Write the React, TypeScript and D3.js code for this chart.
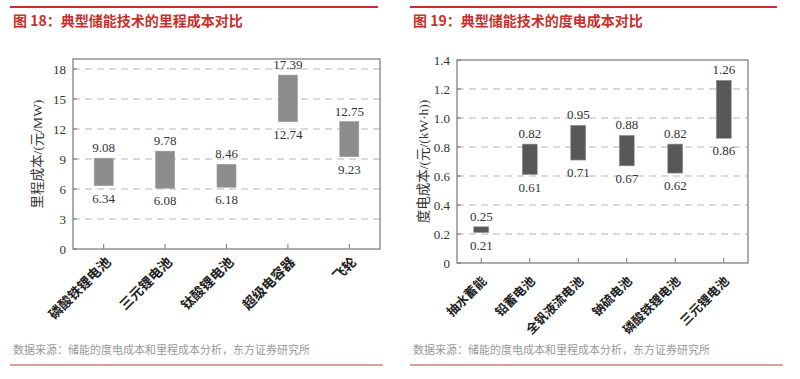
import React from "react";
import * as d3 from "d3";

const leftCategories = ["磷酸铁锂电池", "三元锂电池", "钛酸锂电池", "超级电容器", "飞轮"];
const leftLow = [6.34, 6.08, 6.18, 12.74, 9.23];
const leftHigh = [9.08, 9.78, 8.46, 17.39, 12.75];
const leftTicks = [0, 3, 6, 9, 12, 15, 18];

const rightCategories = ["抽水蓄能", "铅蓄电池", "全钒液流电池", "钠硫电池", "磷酸铁锂电池", "三元锂电池"];
const rightLow = [0.21, 0.61, 0.71, 0.67, 0.62, 0.86];
const rightHigh = [0.25, 0.82, 0.95, 0.88, 0.82, 1.26];
const rightTicks = [0, 0.2, 0.4, 0.6, 0.8, 1.0, 1.2, 1.4];

const leftTitle = "图 18：典型储能技术的里程成本对比";
const rightTitle = "图 19：典型储能技术的度电成本对比";
const leftYTitle = "里程成本/(元/MW)";
const rightYTitle = "度电成本/(元/(kW·h))";
const sourceText = "数据来源：储能的度电成本和里程成本分析，东方证券研究所";

const SERIF = "'Liberation Serif', 'DejaVu Serif', serif";
const CJK = "'Noto Sans CJK SC', sans-serif";
const MIXED = "'Liberation Serif', 'Noto Sans CJK SC', serif";
const RED = "#c9302c";

type PanelProps = {
  ox: number;
  lineEnd: number;
  bottomLineEnd: number;
  title: string;
  yTitle: string;
  yTitleX: number;
  categories: string[];
  low: number[];
  high: number[];
  ticks: number[];
  yMax: number;
  x0: number;
  x1: number;
  yTop: number;
  yBottom: number;
  barWidth: number;
  barColor: string;
  tickFmt: (v: number) => string;
  valFmt: (v: number) => string;
  labelDx: number;
  labelDy: number;
  labelSize: number;
};

function Panel(p: PanelProps) {
  const x = d3.scaleBand<string>().domain(p.categories).range([p.x0, p.x1]).padding(0);
  const y = d3.scaleLinear().domain([0, p.yMax]).range([p.yBottom, p.yTop]);
  const grid = p.ticks.filter((t) => t > 0 && y(t) > p.yTop + 2);
  return (
    <g>
      <line x1={p.ox} x2={p.lineEnd} y1={7} y2={7} stroke={RED} strokeWidth={1.8} />
      <text x={p.ox + 3} y={26} fill={RED} fontFamily={CJK} fontWeight={700} fontSize={14}>
        {p.title}
      </text>
      {grid.map((t) => (
        <line key={t} x1={p.x0} x2={p.x1} y1={y(t)} y2={y(t)} stroke="#b5b5b5" strokeWidth={1} strokeDasharray="7,5" />
      ))}
      <rect x={p.x0} y={p.yTop} width={p.x1 - p.x0} height={p.yBottom - p.yTop} fill="none" stroke="#777" strokeWidth={1.2} />
      {p.ticks.map((t) => (
        <g key={"t" + t}>
          <line x1={p.x0} x2={p.x0 + 4} y1={y(t)} y2={y(t)} stroke="#777" />
          <text x={p.x0 - 7} y={y(t) + 4.5} textAnchor="end" fontFamily={SERIF} fontSize={13} fill="#333">
            {p.tickFmt(t)}
          </text>
        </g>
      ))}
      <text
        transform={`translate(${p.yTitleX},${(p.yTop + p.yBottom) / 2}) rotate(-90)`}
        textAnchor="middle"
        fontFamily={MIXED}
        fontSize={13.5}
        fill="#333"
      >
        {p.yTitle}
      </text>
      {p.categories.map((c, i) => {
        const cx = (x(c) as number) + x.bandwidth() / 2;
        const yt = y(p.high[i]);
        const yb = y(p.low[i]);
        return (
          <g key={c}>
            <line x1={cx} x2={cx} y1={p.yBottom} y2={p.yBottom - 5} stroke="#777" />
            <rect x={cx - p.barWidth / 2} y={yt} width={p.barWidth} height={yb - yt} fill={p.barColor} stroke="#999" strokeWidth={0.6} />
            <text x={cx} y={yt - 6} textAnchor="middle" fontFamily={SERIF} fontSize={13} fill="#333">
              {p.valFmt(p.high[i])}
            </text>
            <text x={cx} y={yb + 17} textAnchor="middle" fontFamily={SERIF} fontSize={13} fill="#333">
              {p.valFmt(p.low[i])}
            </text>
            <text
              transform={`translate(${cx + p.labelDx},${p.yBottom + p.labelDy}) rotate(-45)`}
              textAnchor="end"
              fontFamily={CJK}
              fontWeight={700}
              fontSize={p.labelSize}
              fill="#222"
            >
              {c}
            </text>
          </g>
        );
      })}
      <text x={p.ox + 3} y={354} fontFamily={CJK} fontSize={11} fill="#999">
        {sourceText}
      </text>
      <line x1={p.ox} x2={p.bottomLineEnd} y1={365} y2={365} stroke="#b8403a" strokeWidth={1.2} />
    </g>
  );
}

export default function App() {
  return (
    <svg
      width={800}
      height={379}
      style={{ position: "absolute", left: 0, top: 0, background: "#fff" }}
    >
      <rect width={800} height={379} fill="#fff" />
      <Panel
        ox={10}
        lineEnd={378}
        bottomLineEnd={383}
        title={leftTitle}
        yTitle={leftYTitle}
        yTitleX={42}
        categories={leftCategories}
        low={leftLow}
        high={leftHigh}
        ticks={leftTicks}
        yMax={19}
        x0={73}
        x1={380}
        yTop={59}
        yBottom={249}
        barWidth={19}
        barColor="#8c8c8c"
        tickFmt={(v) => String(v)}
        valFmt={(v) => v.toFixed(2)}
        labelDx={8}
        labelDy={14}
        labelSize={13.5}
      />
      <Panel
        ox={410}
        lineEnd={777}
        bottomLineEnd={783}
        title={rightTitle}
        yTitle={rightYTitle}
        yTitleX={428}
        categories={rightCategories}
        low={rightLow}
        high={rightHigh}
        ticks={rightTicks}
        yMax={1.4}
        x0={457}
        x1={748}
        yTop={60}
        yBottom={263}
        barWidth={15}
        barColor="#585858"
        tickFmt={(v) => (v === 0 ? "0" : v.toFixed(1))}
        valFmt={(v) => v.toFixed(2)}
        labelDx={6}
        labelDy={19}
        labelSize={12.5}
      />
    </svg>
  );
}
